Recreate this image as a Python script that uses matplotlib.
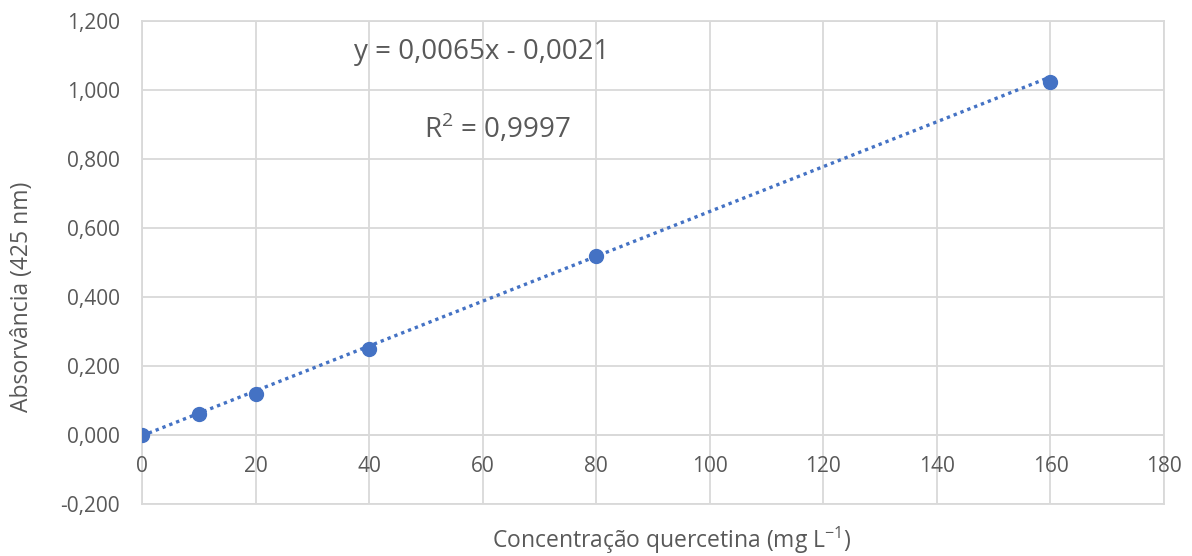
import numpy as np
import matplotlib.pyplot as plt
from matplotlib.ticker import FuncFormatter

# dados da curva de calibracao
conc = [0, 10, 20, 40, 80, 160]
absorb = [0.0, 0.061, 0.119, 0.250, 0.520, 1.022]
slope = 0.0065
intercept = -0.0021
eq_text = "y = 0,0065x - 0,0021"
r2_text = "R$^2$ = 0,9997"
x_ticks = np.arange(0, 181, 20)
y_ticks = np.arange(-0.2, 1.21, 0.2)

grey = '#595959'
blue = '#4472C4'

plt.rcParams['font.family'] = ['Open Sans', 'DejaVu Sans']
plt.rcParams['mathtext.fontset'] = 'custom'
plt.rcParams['mathtext.rm'] = 'Open Sans'

W, H = 1192, 556
fig = plt.figure(figsize=(W / 100, H / 100), dpi=100)
ax = fig.add_axes([142/W, 1 - 504/H, (1164 - 142)/W, (504 - 21)/H])

xs = np.array([0, 160])
ax.plot(xs, slope * xs + intercept, color=blue, linestyle=(0, (1, 1.2)), lw=2.4, zorder=3)
ax.plot(conc, absorb, 'o', color=blue, ms=10, zorder=4)

ax.set_xlim(0, 180)
ax.set_ylim(-0.2, 1.2)
ax.set_xticks(x_ticks)
ax.set_yticks(y_ticks)
ax.yaxis.set_major_formatter(FuncFormatter(lambda v, p: ('%.3f' % v).replace('.', ',').replace('-0,000', '0,000')))
ax.grid(True, color='#d9d9d9', lw=1.3)
ax.set_axisbelow(True)
for s in ax.spines.values():
    s.set_color('#d9d9d9')
    s.set_linewidth(1.3)
ax.axhline(0, color='#d9d9d9', lw=1.3, zorder=1)
ax.tick_params(length=0, labelsize=15, colors=grey, pad=16)

# rotulos do eixo x logo abaixo da linha do zero
ax.set_xticklabels([])
for v in x_ticks:
    ax.text(v, -0.06, str(v), ha='center', va='top', fontsize=15, color=grey)

fig.text(672/W, 1 - 540/H, "Concentração quercetina (mg L$^{-1}$)", fontsize=16.5, color=grey,
         ha='center', va='center')
fig.text(22/W, 1 - 297/H, "Absorvância (425 nm)", fontsize=16.5, color=grey,
         ha='center', va='center', rotation=90)

fig.text(482/W, 1 - 52/H, eq_text, fontsize=20, color=grey, ha='center', va='center')
fig.text(497/W, 1 - 128/H, r2_text, fontsize=20, color=grey, ha='center', va='center')

fig.savefig('out.png', dpi=100)
